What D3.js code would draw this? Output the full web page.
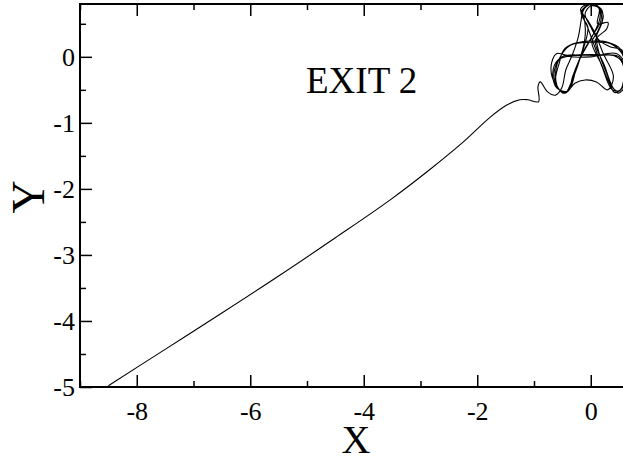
<!DOCTYPE html>
<html>
<head>
<meta charset="utf-8">
<script src="https://cdn.jsdelivr.net/npm/d3@7"></script>
<style>
  body { margin: 0; background: #fff; }
  text { font-family: "Liberation Serif", "Times New Roman", serif; }
</style>
</head>
<body>
<div id="chart"></div>
<script>
// Axis ticks
const xMajor = [-8, -6, -4, -2, 0];
const xMinor = [-9, -7, -5, -3, -1, 1];
const yMajor = [-5, -4, -3, -2, -1, 0];
const yMinor = [-4.5, -3.5, -2.5, -1.5, -0.5, 0.5];

// Trajectory: the approach towards exit 2
const approachX = [-8.5, -7.5, -6.5, -5.5, -4.5, -3.54, -2.84, -2.26, -1.78, -1.48, -1.25, -1.11, -0.92, -0.93, -0.89, -0.76, -0.62, -0.51, -0.44];
const approachY = [-4.98, -4.43, -3.88, -3.32, -2.74, -2.17, -1.71, -1.30, -0.92, -0.73, -0.65, -0.65, -0.68, -0.45, -0.38, -0.53, -0.58, -0.47, -0.20];

// Trajectory: the tangle near the origin
const tangleX = [-0.33, -0.22, -0.17, -0.14, -0.07, 0.08, 0.20, 0.20, 0.10, 0.15, 0.28, 0.40, 0.50, 0.58, 0.55, 0.40, 0.10, -0.30, -0.58, -0.67,
  -0.60, -0.42, -0.30, -0.18, -0.10, -0.12, -0.18, -0.05, 0.12, 0.22, 0.12, 0.02, 0.18, 0.33, 0.42, 0.55, 0.62, 0.52, 0.30, 0.00,
  -0.30, -0.48, -0.55, -0.62, -0.48, -0.35, -0.25, -0.12, -0.05, -0.15, -0.08, 0.05, 0.15, 0.12, 0.30, 0.28, 0.08, 0.25, 0.38, 0.48,
  0.60, 0.60, 0.45, 0.00, -0.35, -0.60, -0.70, -0.62, -0.45, -0.28, -0.10, 0.10, 0.30, 0.40, 0.22, 0.08, -0.05, -0.15, -0.02, 0.15,
  0.18, 0.05, -0.15, -0.32, -0.40, -0.55, -0.62, -0.55, -0.35, 0.00, 0.35, 0.55, 0.62,
  0.55, 0.35, 0.15, 0.00, -0.10, 0.00, 0.14, 0.16, 0.02, -0.20, -0.35, -0.45, -0.60, -0.64, -0.50, -0.20, 0.20, 0.50, 0.60, 0.52,
  0.38, 0.20, 0.05, -0.08, -0.17, -0.05];
const tangleY = [0.02, 0.30, 0.55, 0.70, 0.78, 0.78, 0.70, 0.52, 0.30, 0.05, -0.25, -0.48, -0.52, -0.35, -0.08, 0.02, 0.02, 0.02, -0.05, -0.25,
  -0.47, -0.52, -0.30, 0.00, 0.30, 0.60, 0.72, 0.80, 0.76, 0.62, 0.38, 0.22, -0.10, -0.40, -0.54, -0.48, -0.20, 0.12, 0.22, 0.24,
  0.20, 0.10, -0.08, -0.38, -0.55, -0.45, -0.15, 0.15, 0.45, 0.62, 0.76, 0.80, 0.72, 0.50, 0.52, 0.42, 0.25, -0.15, -0.45, -0.55,
  -0.45, -0.10, 0.05, 0.00, 0.00, 0.05, -0.15, -0.42, -0.55, -0.40, -0.35, -0.38, -0.50, -0.30, 0.05, 0.35, 0.55, 0.68, 0.79, 0.75,
  0.55, 0.35, 0.05, -0.30, -0.52, -0.50, -0.30, -0.02, 0.18, 0.22, 0.20, 0.05, -0.15,
  0.10, 0.15, 0.25, 0.45, 0.65, 0.77, 0.74, 0.58, 0.30, -0.05, -0.40, -0.55, -0.45, -0.20, 0.00, 0.03, 0.03, 0.00, -0.25, -0.50,
  -0.50, -0.15, 0.20, 0.50, 0.68, 0.79];

const W = 623, H = 459;
const plotLeft = 80, plotTop = 4, plotBottom = 387;

const svg = d3.select("#chart")
    .append("svg")
    .attr("width", W)
    .attr("height", H);

const x = d3.scaleLinear().domain([-9, 1]).range([plotLeft, plotLeft + 10 * 56.75]);
const y = d3.scaleLinear().domain([-5, 0.8]).range([plotBottom, plotTop]);

svg.append("clipPath").attr("id", "clip")
    .append("rect")
    .attr("x", plotLeft).attr("y", plotTop)
    .attr("width", W - plotLeft).attr("height", plotBottom - plotTop);

// plain hyphen for negatives, like the original
const fmt = d => String(d);

// Ticks (drawn inward)
function styleAxis(g) {
    g.select(".domain").remove();
    g.selectAll(".tick line").attr("stroke", "#000").attr("stroke-width", 1.5);
    g.selectAll(".tick text").attr("font-size", 26).attr("fill", "#000")
        .style("font-family", "'Liberation Serif', 'Times New Roman', serif");
}

svg.append("g")
    .attr("transform", `translate(0,${plotBottom})`)
    .call(d3.axisBottom(x).tickValues(xMajor).tickSize(-12).tickPadding(15).tickFormat(fmt))
    .call(styleAxis);
svg.append("g")
    .attr("transform", `translate(0,${plotBottom})`)
    .call(d3.axisBottom(x).tickValues(xMinor).tickSize(-6).tickFormat(""))
    .call(styleAxis);
svg.append("g")
    .attr("transform", `translate(0,${plotTop})`)
    .call(d3.axisTop(x).tickValues(xMajor).tickSize(-12).tickFormat(""))
    .call(styleAxis);
svg.append("g")
    .attr("transform", `translate(0,${plotTop})`)
    .call(d3.axisTop(x).tickValues(xMinor).tickSize(-6).tickFormat(""))
    .call(styleAxis);
svg.append("g")
    .attr("transform", `translate(${plotLeft},0)`)
    .call(d3.axisLeft(y).tickValues(yMajor).tickSize(-12).tickPadding(5).tickFormat(fmt))
    .call(styleAxis);
svg.append("g")
    .attr("transform", `translate(${plotLeft},0)`)
    .call(d3.axisLeft(y).tickValues(yMinor).tickSize(-6).tickFormat(""))
    .call(styleAxis);

// Frame
svg.append("path")
    .attr("d", `M${W + 5},${plotTop}H${plotLeft}V${plotBottom}H${W + 5}`)
    .attr("fill", "none")
    .attr("stroke", "#000")
    .attr("stroke-width", 2);

// Trajectory
const pts = approachX.map((v, i) => [v, approachY[i]])
    .concat(tangleX.map((v, i) => [v, tangleY[i]]));

const line = d3.line()
    .x(d => x(d[0]))
    .y(d => y(d[1]))
    .curve(d3.curveCatmullRom.alpha(0.5));

svg.append("path")
    .datum(pts)
    .attr("clip-path", "url(#clip)")
    .attr("d", line)
    .attr("fill", "none")
    .attr("stroke", "#000")
    .attr("stroke-width", 1.1);

// Labels
svg.append("text")
    .attr("x", 306)
    .attr("y", 93)
    .attr("font-size", 37)
    .text("EXIT 2");

svg.append("text")
    .attr("x", 356)
    .attr("y", 453)
    .attr("text-anchor", "middle")
    .attr("font-size", 40)
    .text("X");

svg.append("text")
    .attr("transform", "translate(44,197) rotate(-90)")
    .attr("text-anchor", "middle")
    .attr("font-size", 46)
    .text("Y");
</script>
</body>
</html>
